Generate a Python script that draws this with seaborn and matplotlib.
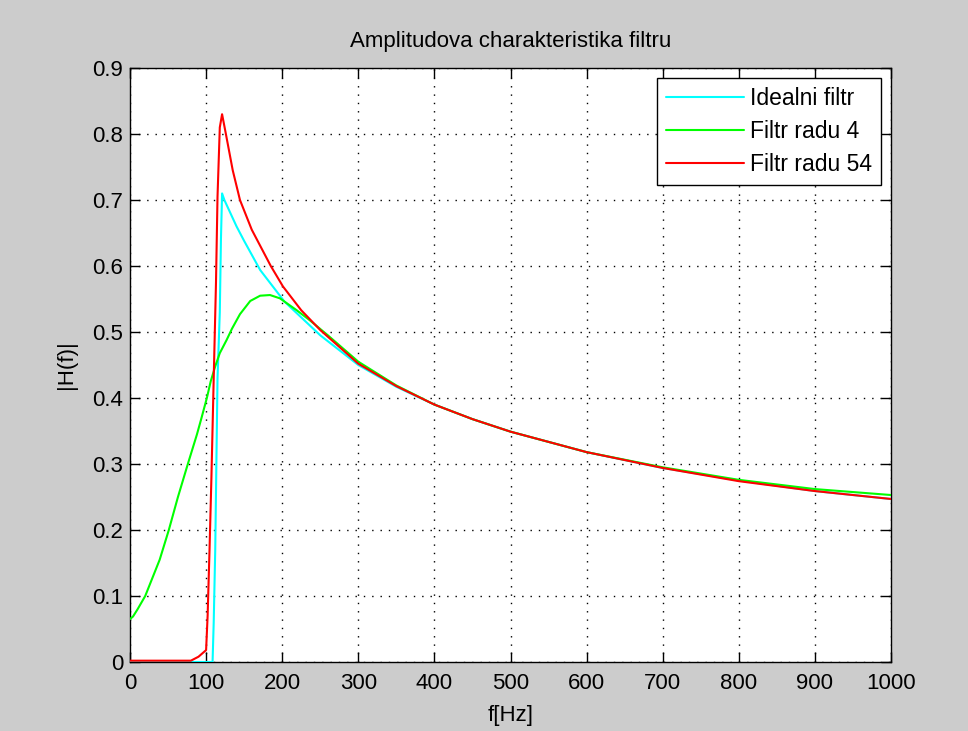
import matplotlib
matplotlib.use("Agg")
import matplotlib.pyplot as plt
import seaborn as sns
import pandas as pd

# Frequencies (Hz) and |H(f)| values
ideal_f = [0, 108.5, 110, 112, 115, 118, 119.5, 121, 124, 130, 140, 150, 171, 203, 250,
           300, 350, 400, 450, 500, 600, 700, 800, 900, 1000]
ideal_h = [0.0, 0.0, 0.06, 0.17, 0.43, 0.53, 0.64, 0.71, 0.70, 0.685, 0.66, 0.638, 0.594,
           0.546, 0.495, 0.45, 0.417, 0.39, 0.368, 0.349, 0.318, 0.294, 0.275, 0.259, 0.247]

order4_f = [0, 4, 10, 20, 39, 51, 63, 76, 88, 94, 101, 106, 112, 118, 127, 134, 144.5, 158,
            171, 184, 197, 219, 236, 260, 300, 350, 400, 450, 500, 600, 700, 800, 900, 1000]
order4_h = [0.065, 0.069, 0.08, 0.1, 0.155, 0.2, 0.25, 0.3, 0.345, 0.37, 0.4, 0.425, 0.448,
            0.468, 0.488, 0.505, 0.527, 0.547, 0.555, 0.556, 0.551, 0.533, 0.518, 0.495,
            0.455, 0.419, 0.39, 0.368, 0.349, 0.318, 0.295, 0.276, 0.262, 0.253]

order54_f = [0, 80, 90, 100, 102, 104.5, 107, 110, 113, 115, 118, 121, 126, 135, 144.5, 160,
             185, 201, 225, 250, 300, 350, 400, 450, 500, 600, 700, 800, 900, 1000]
order54_h = [0.002, 0.002, 0.008, 0.018, 0.07, 0.17, 0.28, 0.43, 0.575, 0.705, 0.81, 0.83,
             0.80, 0.745, 0.70, 0.655, 0.60, 0.569, 0.533, 0.503, 0.452, 0.418, 0.39, 0.368,
             0.349, 0.318, 0.294, 0.274, 0.259, 0.247]

series_names = ["Idealni filtr", "Filtr radu 4", "Filtr radu 54"]
series_colors = ["#00ffff", "#00ff00", "#ff0000"]

x_ticks = [0, 100, 200, 300, 400, 500, 600, 700, 800, 900, 1000]
y_ticks = [0, 0.1, 0.2, 0.3, 0.4, 0.5, 0.6, 0.7, 0.8, 0.9]
y_tick_labels = ["0", "0.1", "0.2", "0.3", "0.4", "0.5", "0.6", "0.7", "0.8", "0.9"]

sns.set_style("ticks")
plt.rcParams['font.family'] = ['Liberation Sans', 'DejaVu Sans']
plt.rcParams['text.color'] = 'black'
plt.rcParams['axes.labelcolor'] = 'black'

fig = plt.figure(figsize=(9.68, 7.31), dpi=100, facecolor="#cccccc")
ax = fig.add_axes([130/968, 1 - 662/731, (891-130)/968, (662-68)/731])
ax.set_facecolor("white")

data = [(ideal_f, ideal_h), (order4_f, order4_h), (order54_f, order54_h)]
for (f, h), name, col in zip(data, series_names, series_colors):
    df = pd.DataFrame({"f": f, "H": h})
    sns.lineplot(data=df, x="f", y="H", ax=ax, color=col, label=name,
                 linewidth=1.5, estimator=None, sort=False, zorder=3)

ax.set_xlim(0, 1000)
ax.set_ylim(0, 0.9)
ax.set_xticks(x_ticks)
ax.set_xticklabels([str(t) for t in x_ticks])
ax.set_yticks(y_ticks)
ax.set_yticklabels(y_tick_labels)
ax.grid(True, color="black", linestyle=(0, (1, 5)), linewidth=1.0)
ax.tick_params(direction="in", length=7, width=1, top=True, right=True,
               labelsize=16, colors="black", pad=5)
ax.tick_params(axis="x", pad=8)
for s in ax.spines.values():
    s.set_visible(True)
    s.set_color("black")
    s.set_linewidth(1.0)

ax.set_title("Amplitudova charakteristika filtru", fontsize=16, pad=15, color="black")
ax.set_xlabel("f[Hz]", fontsize=16, labelpad=8, color="black")
ax.set_ylabel("|H(f)|", fontsize=16, labelpad=11, color="black")

leg = ax.legend(loc="upper right", fontsize=16.5, frameon=True, fancybox=False,
                edgecolor="black", framealpha=1, borderaxespad=0.45,
                handlelength=3.4, handletextpad=0.25, labelspacing=0.42,
                borderpad=0.4)
leg.get_frame().set_linewidth(1.0)
for t in leg.get_texts():
    t.set_color("black")

fig.savefig("out.png", dpi=100, facecolor=fig.get_facecolor())
